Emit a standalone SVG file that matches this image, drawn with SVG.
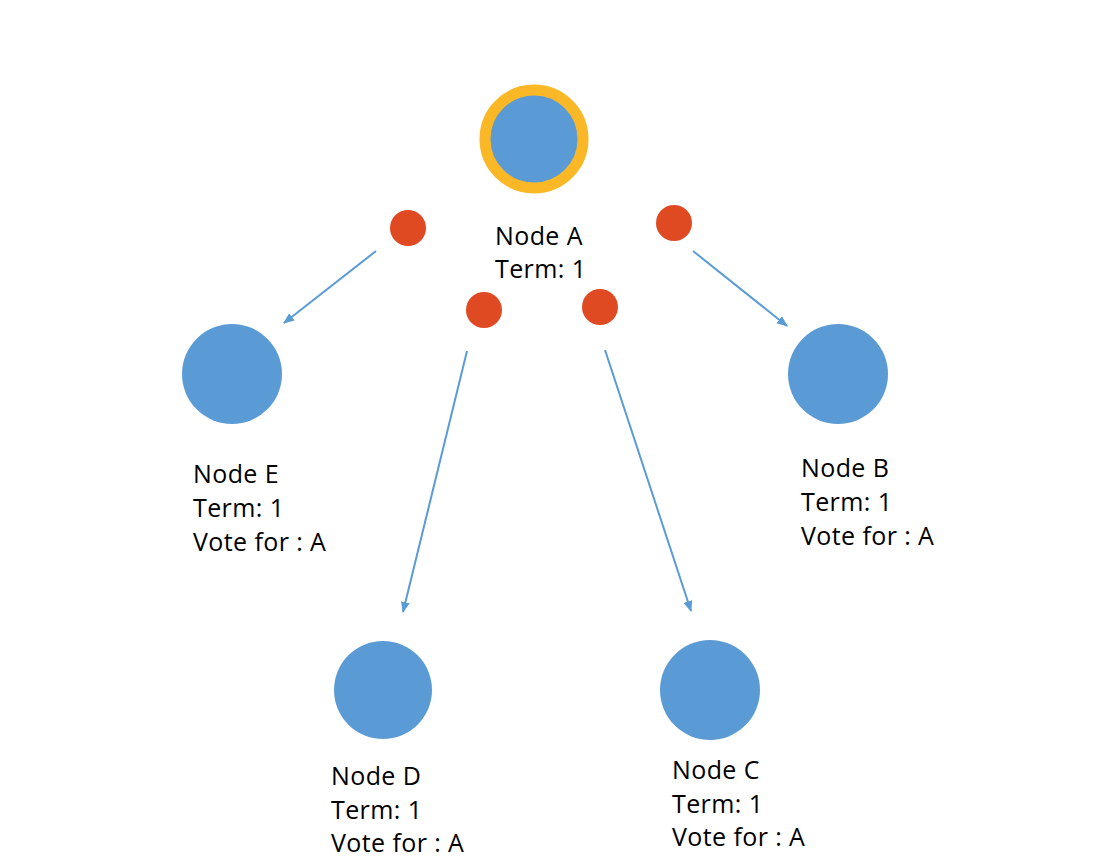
<svg xmlns="http://www.w3.org/2000/svg" width="1100" height="864" viewBox="0 0 1100 864">
<defs>
<marker id="arr" markerWidth="12" markerHeight="12" refX="10" refY="6" orient="auto" markerUnits="userSpaceOnUse">
<path d="M0,1.5 L11,6 L0,10.5 Z" fill="#5b9bd5"/>
</marker>
<style>
.node{fill:#5b9bd5}
.dot{fill:#e04a22}
.lbl{font-family:"Open Sans","Liberation Sans",sans-serif;font-size:25px;letter-spacing:0.4px;fill:#000}
.conn line{stroke:#5b9bd5;stroke-width:2;marker-end:url(#arr)}
</style>
</defs>
<rect width="1100" height="864" fill="#fff"/>
<g id="connectors" class="conn">
<line x1="376" y1="251" x2="284" y2="323"/>
<line x1="467" y1="351" x2="403" y2="612"/>
<line x1="605" y1="350" x2="691" y2="611"/>
<line x1="693" y1="251" x2="787" y2="326"/>
</g>
<g id="messages">
<circle class="dot" cx="408" cy="228" r="18"/>
<circle class="dot" cx="674" cy="223" r="18"/>
<circle class="dot" cx="484" cy="310" r="18"/>
<circle class="dot" cx="600" cy="307" r="18"/>
</g>
<g id="nodeA">
<circle class="node" cx="534" cy="139" r="49" stroke="#fbb826" stroke-width="11"/>
<text class="lbl" x="495" y="245">Node A</text>
<text class="lbl" x="495" y="278">Term: 1</text>
</g>
<g id="nodeE">
<circle class="node" cx="232" cy="374" r="50"/>
<text class="lbl" x="193" y="483">Node E</text>
<text class="lbl" x="193" y="517">Term: 1</text>
<text class="lbl" x="193" y="551">Vote for : A</text>
</g>
<g id="nodeB">
<circle class="node" cx="838" cy="374" r="50"/>
<text class="lbl" x="801" y="477">Node B</text>
<text class="lbl" x="801" y="511">Term: 1</text>
<text class="lbl" x="801" y="545">Vote for : A</text>
</g>
<g id="nodeD">
<circle class="node" cx="383" cy="690" r="49"/>
<text class="lbl" x="331" y="785">Node D</text>
<text class="lbl" x="331" y="819">Term: 1</text>
<text class="lbl" x="331" y="852">Vote for : A</text>
</g>
<g id="nodeC">
<circle class="node" cx="710" cy="690" r="50"/>
<text class="lbl" x="672" y="779">Node C</text>
<text class="lbl" x="672" y="813">Term: 1</text>
<text class="lbl" x="672" y="846">Vote for : A</text>
</g>
</svg>
